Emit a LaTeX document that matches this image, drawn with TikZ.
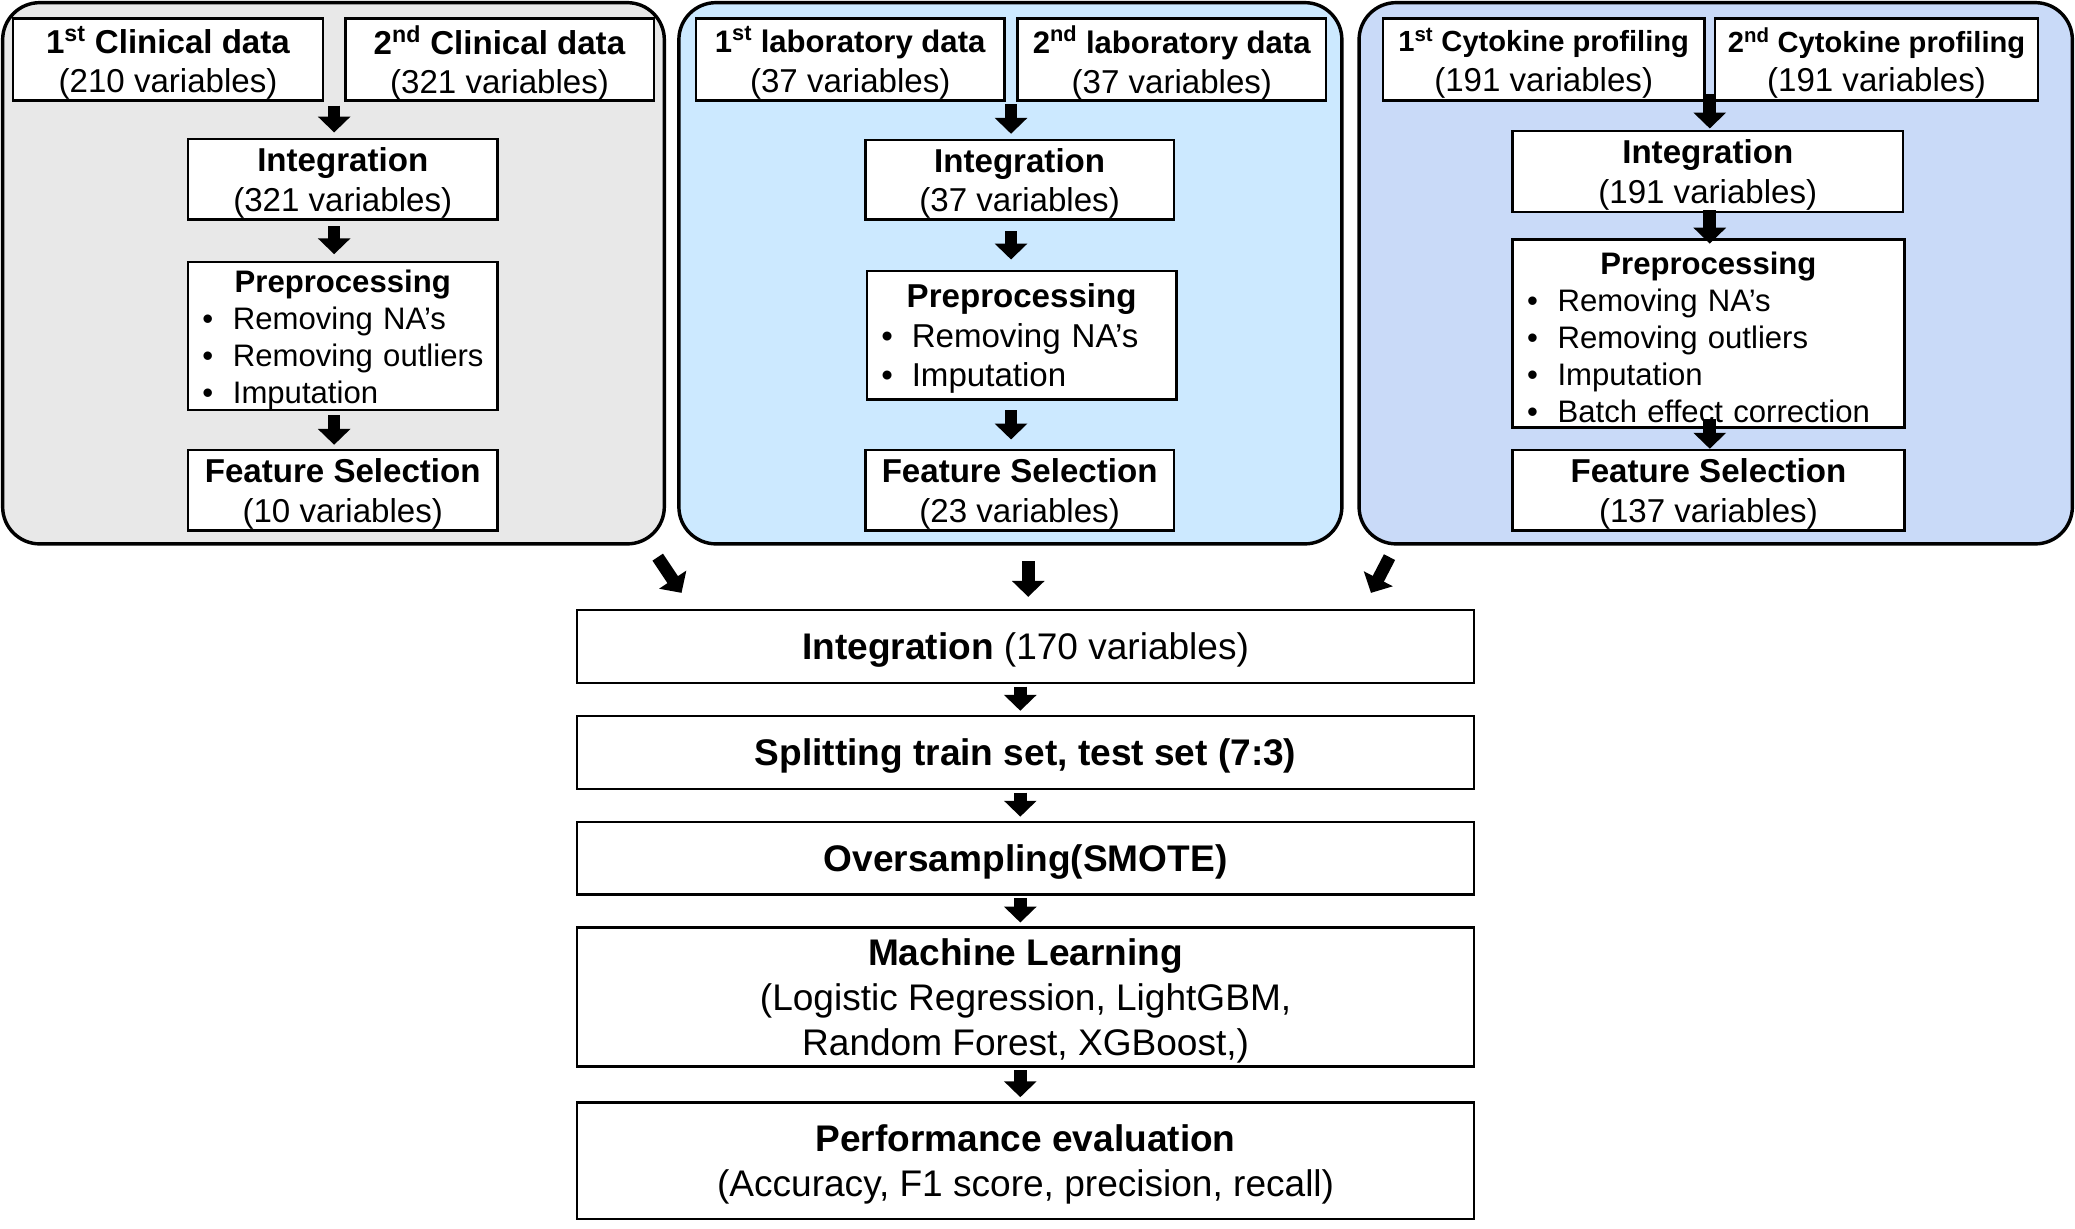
\documentclass[tikz,border=0pt]{standalone}
\usepackage{fontspec}
\setmainfont{Liberation Sans}
\usetikzlibrary{arrows.meta,calc,positioning}
\definecolor{clinicalgray}{HTML}{E8E8E8}
\definecolor{labblue}{HTML}{CCE9FF}
\definecolor{cytoblue}{HTML}{C9DAF8}
\newcommand{\prepitem}[1]{\makebox[23pt][l]{\textbullet}\mbox{#1}}
\newcommand{\preptitle}[1]{\rule{0pt}{23pt}\makebox[#1]{\bfseries Preprocessing}}
\tikzset{
	panel/.style={draw, line width=2.6pt, rounded corners=28pt, inner sep=0pt},
	boxbase/.style={draw, fill=white, line width=1.8pt, inner sep=0pt,
		font=\fontsize{25}{30}\selectfont},
	databox/.style={boxbase, align=center, text depth=0pt},
	prepbox/.style={boxbase, align=left},
	wide/.style={databox, minimum width=678pt, minimum height=55pt,
		font=\fontsize{28}{34}\selectfont},
	blockarrow/.style={line width=9.5pt, -{Triangle[width=24pt,length=12pt]}},
}
\begin{document}
\begin{tikzpicture}[x=1pt,y=-1pt]
	\useasboundingbox (0,0) rectangle (1568,928);

	% panels
	\node[panel, fill=clinicalgray, minimum width=500pt, minimum height=409pt] (lpanel) at (252,206.5) {};
	\node[panel, fill=labblue, minimum width=501pt, minimum height=409pt] (mpanel) at (763.5,206.5) {};
	\node[panel, fill=cytoblue, minimum width=539pt, minimum height=409pt] (rpanel) at (1296.5,206.5) {};

	% clinical data
	\node[databox, minimum width=234pt, minimum height=62pt] (lc1) at (127,45) {\textbf{1\textsuperscript{st} Clinical data}\\(210 variables)};
	\node[databox, minimum width=233pt, minimum height=62pt] (lc2) at (377.5,45) {\textbf{2\textsuperscript{nd} Clinical data}\\(321 variables)};
	\node[databox, minimum width=234pt, minimum height=61pt] (lint) at (259,135.5) {\textbf{Integration}\\(321 variables)};
	\node[prepbox, minimum width=234pt, minimum height=112pt, text width=212pt,
		font=\fontsize{23.5}{28}\selectfont] (lpre) at (259,254)
		{\preptitle{212pt}\\\prepitem{Removing NA’s}\\\prepitem{Removing outliers}\\\prepitem{Imputation}};
	\node[databox, minimum width=234pt, minimum height=61pt] (lfs) at (259,370.5) {\textbf{Feature Selection}\\(10 variables)};

	% laboratory data
	\node[databox, minimum width=233pt, minimum height=62pt] (m1) at (642.5,45) {\textbf{\fontsize{23.5}{30}\selectfont 1\textsuperscript{st} laboratory data}\\(37 variables)};
	\node[databox, minimum width=233pt, minimum height=62pt] (m2) at (885.5,45) {\textbf{\fontsize{23.5}{30}\selectfont 2\textsuperscript{nd} laboratory data}\\(37 variables)};
	\node[databox, minimum width=233pt, minimum height=60pt] (mint) at (770.5,136) {\textbf{Integration}\\(37 variables)};
	\node[prepbox, minimum width=234pt, minimum height=97pt, text width=212pt] (mpre) at (772,253.5)
		{\preptitle{212pt}\\\prepitem{Removing NA’s}\\\prepitem{Imputation}};
	\node[databox, minimum width=233pt, minimum height=61pt] (mfs) at (770.5,370.5) {\textbf{Feature Selection}\\(23 variables)};

	% cytokine profiling
	\node[databox, minimum width=243pt, minimum height=62pt] (r1) at (1166.5,45) {\textbf{\fontsize{22}{30}\selectfont 1\textsuperscript{st} Cytokine profiling}\\(191 variables)};
	\node[databox, minimum width=244pt, minimum height=62pt] (r2) at (1418,45) {\textbf{\fontsize{22}{30}\selectfont 2\textsuperscript{nd} Cytokine profiling}\\(191 variables)};
	\node[databox, minimum width=295pt, minimum height=61pt] (rint) at (1290.5,129.5) {\textbf{Integration}\\(191 variables)};
	\node[prepbox, minimum width=296pt, minimum height=142pt, text width=274pt,
		font=\fontsize{23.5}{28}\selectfont] (rpre) at (1291,252)
		{\preptitle{274pt}\\\prepitem{Removing NA’s}\\\prepitem{Removing outliers}\\\prepitem{Imputation}\\\prepitem{Batch effect correction}};
	\node[databox, minimum width=296pt, minimum height=61pt] (rfs) at (1291,370.5) {\textbf{Feature Selection}\\(137 variables)};

	% combined pipeline
	\node[wide] (bint) at (775,488.5) {\textbf{Integration} (170 variables)};
	\node[wide] (bsplit) at (775,568.5) {\textbf{Splitting train set, test set (7:3)}};
	\node[wide] (bover) at (775,648.5) {\textbf{Oversampling(SMOTE)}};
	\node[wide, minimum height=105pt] (bml) at (775,753.5) {\textbf{Machine Learning}\\(Logistic Regression, LightGBM,\\Random Forest, XGBoost,)};
	\node[wide, minimum height=88pt] (bperf) at (775,877) {\textbf{Performance evaluation}\\(Accuracy, F1 score, precision, recall)};

	% arrows inside panels
	\coordinate (ltop) at ($(lc1.south east)!0.5!(lc2.south west)$);
	\coordinate (mtop) at ($(m1.south east)!0.5!(m2.south west)$);
	\coordinate (rtop) at ($(r1.south east)!0.5!(r2.south west)$);
	\draw[blockarrow, shorten <=3pt, shorten >=4pt] (ltop) -- (ltop |- lint.north);
	\draw[blockarrow, shorten <=4pt, shorten >=5pt] (ltop |- lint.south) -- (ltop |- lpre.north);
	\draw[blockarrow, shorten <=3pt, shorten >=3pt] (ltop |- lpre.south) -- (ltop |- lfs.north);
	\draw[blockarrow, shorten <=2pt, shorten >=4pt] (mtop) -- (mtop |- mint.north);
	\draw[blockarrow, shorten <=8pt, shorten >=8pt] (mtop |- mint.south) -- (mtop |- mpre.north);
	\draw[blockarrow, shorten <=7pt, shorten >=7pt] (mtop |- mpre.south) -- (mtop |- mfs.north);
	\draw[blockarrow, shorten <=-6pt, shorten >=1pt] (rtop) -- (rtop |- rint.north);
	\draw[blockarrow, shorten <=-2pt, shorten >=-4pt] (rtop |- rint.south) -- (rtop |- rpre.north);
	\draw[blockarrow, shorten <=-7pt, shorten >=0pt] (rtop |- rpre.south) -- (rtop |- rfs.north);

	% arrows from panels to pipeline
	\coordinate (lout) at (497,421);
	\coordinate (lin) at (515,448);
	\coordinate (mout) at (777,424);
	\coordinate (min) at (777,451);
	\coordinate (rout) at (1050,421);
	\coordinate (rin) at (1036,448);
	\draw[blockarrow] (lout) -- (lin);
	\draw[blockarrow] (mout) -- (min);
	\draw[blockarrow] (rout) -- (rin);

	\foreach \a/\b in {bint/bsplit, bsplit/bover, bover/bml, bml/bperf} {
		\draw[blockarrow, shorten <=2pt, shorten >=3pt] ([xshift=-4pt]\a.south) -- ([xshift=-4pt]\b.north);
	}
\end{tikzpicture}
\end{document}
